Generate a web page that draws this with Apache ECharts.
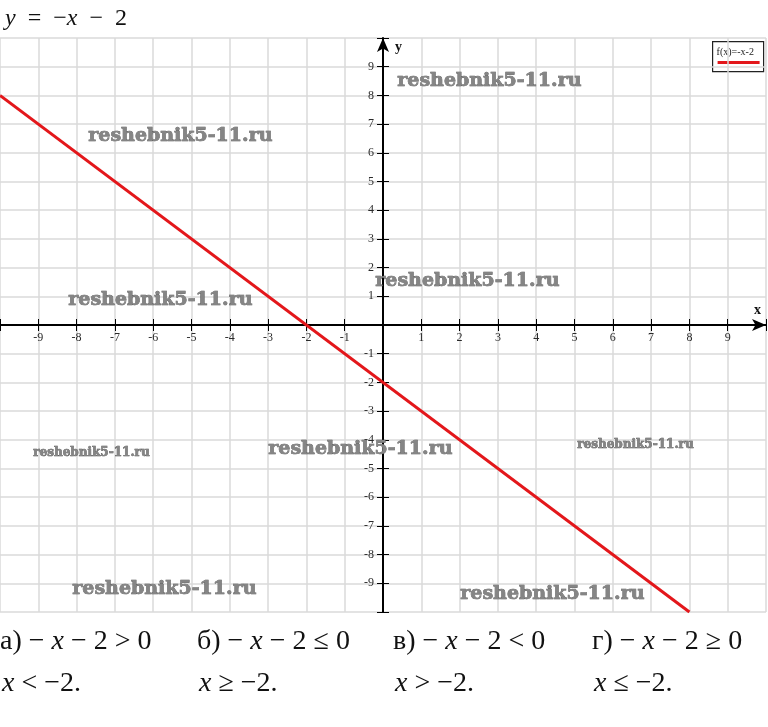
<!DOCTYPE html>
<html>
<head>
<meta charset="utf-8">
<script src="https://cdn.jsdelivr.net/npm/echarts@6/dist/echarts.min.js"></script>
<style>
  html, body { margin: 0; padding: 0; background: #fff; }
  #main { width: 768px; height: 727px; }
</style>
</head>
<body>
<div id="main"></div>
<script>
// axis ranges
const xMin = -10, xMax = 10;
const yMin = -10, yMax = 10;

// the plotted line y = -x - 2 (end points)
const lineX = [-10, 8];
const lineY = [8, -10];
const seriesName = 'f(x)=-x-2';

// inequalities under the chart
const answerHeads = ['а)', 'б)', 'в)', 'г)'];
const answerSigns = ['>', '≤', '<', '≥'];
const answerResults = ['<', '≥', '>', '≤'];

// watermark text
const mark = 'reshebnik5-11.ru';

const serif = '"Liberation Serif", "DejaVu Serif", serif';
const sp = '\u2002';

var myChart = echarts.init(document.getElementById('main'));

/* labels: no 0 and no ends */
function tickLabel(v) {
    if (v === 0 || v === xMin || v === xMax) return '';
    return String(v);
}

function wm(x, y, size) {
    return {
        type: 'text', left: x, top: y, z: 50,
        style: {
            text: mark,
            font: 'bold ' + size + 'px "DejaVu Serif", serif',
            fill: '#858585',
            stroke: '#4a4a4a',
            lineWidth: 0.6
        }
    };
}

var colX = [0, 197, 393, 592];
var rich = {
    n: {font: '28px ' + serif, fill: '#111'},
    i: {font: 'italic 28px ' + serif, fill: '#111'}
};
var answers = [];
for (let i = 0; i < 4; i++) {
    answers.push({
        type: 'text', left: colX[i], top: 628,
        style: {
            text: '{n|' + answerHeads[i] + ' − }{i|x}{n| − 2 ' + answerSigns[i] + ' 0}',
            rich: rich
        }
    });
    answers.push({
        type: 'text', left: colX[i] + 2, top: 670,
        style: {
            text: '{i|x}{n| ' + answerResults[i] + ' −2.}',
            rich: rich
        }
    });
}

/*
 grid 0: whole plane, grid lines + the line
 grid 1: upper half, its bottom edge is the x axis (y = 0)
 grid 2: right half, its left edge is the y axis (x = 0)
*/
var L = 0, T = 38, W = 766, H = 574;
var grids = [
    {left: L, top: T, width: W, height: H},
    {left: L, top: T, width: W, height: H / 2},
    {left: L + W / 2, top: T, width: W / 2, height: H}
];
grids.forEach(g => { g.containLabel = false; g.outerBoundsMode = 'none'; });

var hidden = {type: 'value', show: false};
var tickStyle = {color: '#000', width: 1};
var lineStyle = {color: '#000', width: 2};
var labelStyle = {formatter: tickLabel, fontFamily: serif, fontSize: 12, color: '#2a2a2a'};

var option = {
    animation: false,
    title: {
        left: 0, top: 2,
        text: '{i|y}{n|' + sp + '=' + sp + '−}{i|x}{n|' + sp + '−' + sp + '2}',
        textStyle: {
            fontWeight: 'normal',
            rich: {
                n: {fontFamily: serif, fontSize: 24, fontWeight: 'normal', color: '#111'},
                i: {fontFamily: serif, fontSize: 24, fontWeight: 'normal', fontStyle: 'italic', color: '#111'}
            }
        }
    },
    grid: grids,
    xAxis: [
        {
            type: 'value', gridIndex: 0, min: xMin, max: xMax, interval: 1,
            axisLine: {show: false}, axisTick: {show: false}, axisLabel: {show: false},
            splitLine: {show: true, lineStyle: {color: '#dadada', width: 1.5}}
        },
        {
            type: 'value', gridIndex: 1, position: 'bottom', min: xMin, max: xMax, interval: 1,
            name: 'x', nameLocation: 'end', nameGap: -12,
            nameTextStyle: {fontFamily: serif, fontWeight: 'bold', fontSize: 14, color: '#111',
                verticalAlign: 'bottom', padding: [0, 0, 8, 0]},
            axisLine: {show: true, symbol: ['none', 'arrow'], symbolSize: [9, 14], lineStyle: lineStyle},
            axisTick: {show: true, length: 6, lineStyle: tickStyle},
            axisLabel: Object.assign({margin: 7}, labelStyle),
            splitLine: {show: false}
        },
        {
            type: 'value', gridIndex: 1, position: 'bottom', offset: 0, min: xMin, max: xMax, interval: 1,
            axisLine: {show: false},
            axisTick: {show: true, inside: true, length: 6, lineStyle: tickStyle},
            axisLabel: {show: false}, splitLine: {show: false}
        },
        Object.assign({gridIndex: 2, min: 0, max: xMax}, hidden)
    ],
    yAxis: [
        {
            type: 'value', gridIndex: 0, min: yMin, max: yMax, interval: 1,
            axisLine: {show: false}, axisTick: {show: false}, axisLabel: {show: false},
            splitLine: {show: true, lineStyle: {color: '#dadada', width: 1.5}}
        },
        Object.assign({gridIndex: 1, min: 0, max: yMax}, hidden),
        {
            type: 'value', gridIndex: 2, position: 'left', min: yMin, max: yMax, interval: 1,
            name: 'y', nameLocation: 'end', nameGap: -16,
            nameTextStyle: {fontFamily: serif, fontWeight: 'bold', fontSize: 14, color: '#111',
                align: 'left', padding: [0, 0, 0, 12]},
            axisLine: {show: true, symbol: ['none', 'arrow'], symbolSize: [9, 14], lineStyle: lineStyle},
            axisTick: {show: true, length: 6, lineStyle: tickStyle},
            axisLabel: Object.assign({margin: 9}, labelStyle),
            splitLine: {show: false}
        },
        {
            type: 'value', gridIndex: 2, position: 'left', offset: 0, min: yMin, max: yMax, interval: 1,
            axisLine: {show: false},
            axisTick: {show: true, inside: true, length: 6, lineStyle: tickStyle},
            axisLabel: {show: false}, splitLine: {show: false}
        }
    ],
    series: [{
        name: seriesName,
        type: 'line',
        xAxisIndex: 0,
        yAxisIndex: 0,
        showSymbol: false,
        clip: true,
        z: 3,
        lineStyle: {color: '#e3171b', width: 3},
        data: lineX.map((x, i) => [x, lineY[i]])
    }],
    graphic: [
        {
            type: 'group', left: 712, top: 41, z: 60,
            children: [
                {type: 'rect', shape: {x: 0, y: 0, width: 51, height: 30},
                    style: {fill: '#fff', stroke: '#222', lineWidth: 1.2}},
                {type: 'text', x: 4, y: 6,
                    style: {text: seriesName, font: '10px ' + serif, fill: '#222'}},
                {type: 'line', shape: {x1: 5, y1: 21, x2: 47, y2: 21},
                    style: {stroke: '#e3171b', lineWidth: 3}}
            ]
        },
        wm(397, 71, 19),
        wm(88, 126, 19),
        wm(68, 290, 19),
        wm(375, 271, 19),
        wm(33, 447, 12),
        wm(268, 439, 19),
        wm(577, 439, 12),
        wm(72, 579, 19),
        wm(460, 584, 19)
    ].concat(answers)
};

myChart.setOption(option);
</script>
</body>
</html>
